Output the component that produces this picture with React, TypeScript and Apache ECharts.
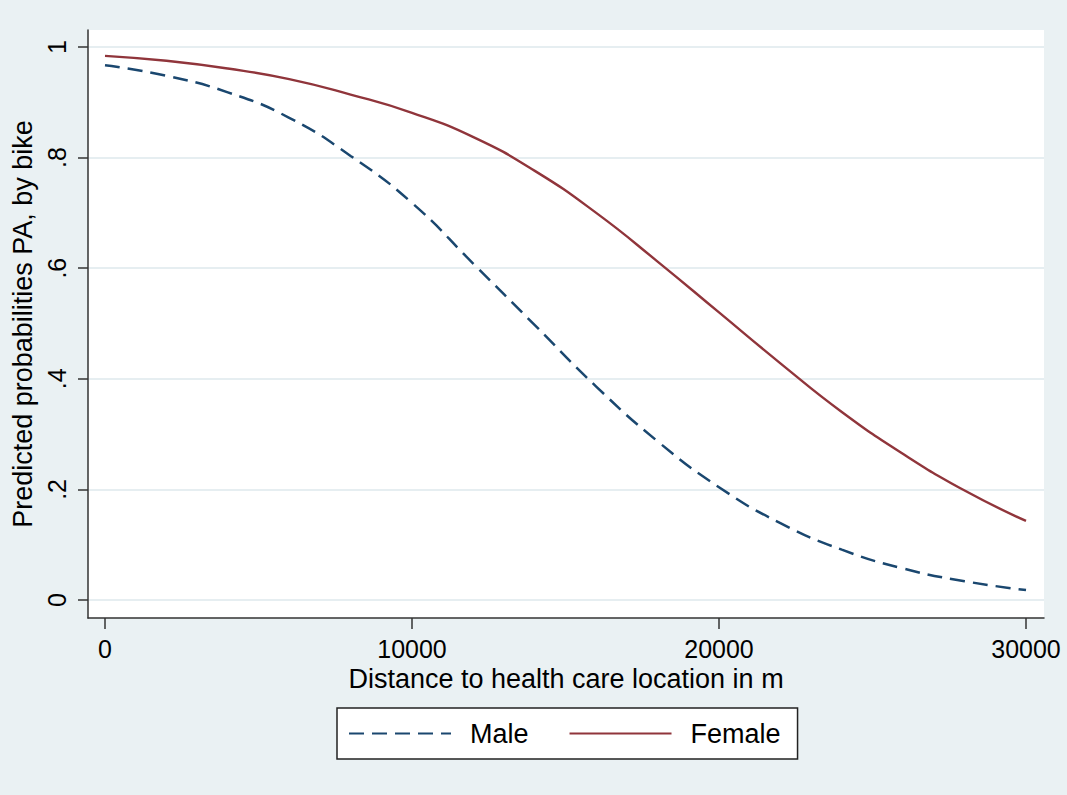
import React, { useEffect, useRef } from "react";
import * as echarts from "echarts";

// Distance to health care location (m)
const distance = [0, 2000, 4000, 6000, 8000, 10000, 12000, 14000, 16000, 18000, 20000, 22000, 24000, 26000, 28000, 30000];
// Predicted probability of physical activity by bike
const male = [0.967, 0.948, 0.918, 0.872, 0.803, 0.718, 0.608, 0.497, 0.386, 0.287, 0.204, 0.139, 0.091, 0.057, 0.034, 0.018];
const female = [0.984, 0.975, 0.961, 0.942, 0.914, 0.881, 0.837, 0.776, 0.7, 0.612, 0.52, 0.428, 0.34, 0.264, 0.198, 0.143];

const xTicks = [0, 10000, 20000, 30000];
const yTicks = [0, 0.2, 0.4, 0.6, 0.8, 1];
const yTickLabels = ["0", ".2", ".4", ".6", ".8", "1"];

const FONT = "'Liberation Sans', Arial, sans-serif";
const BG = "#EAF1F3";
const AXIS = "#333333";

export default function App() {
  const ref = useRef<HTMLDivElement>(null);

  useEffect(() => {
    if (!ref.current) return;
    const chart = echarts.init(ref.current, null, { renderer: "svg" });
    const pairs = (ys: number[]) => distance.map((d, i) => [d, ys[i]]);

    chart.setOption({
      animation: false,
      backgroundColor: BG,
      textStyle: { fontFamily: FONT, color: "#000" },
      grid: {
        left: 88,
        top: 30,
        right: 23,
        bottom: 177,
        show: true,
        backgroundColor: "#ffffff",
        borderWidth: 0,
      },
      xAxis: {
        type: "value",
        min: -554,
        max: 30586,
        name: "Distance to health care location in m",
        nameLocation: "middle",
        nameGap: 45,
        nameTextStyle: { fontSize: 27, color: "#000", fontFamily: FONT },
        axisLine: { show: true, onZero: false, lineStyle: { color: AXIS, width: 1.5 } },
        axisTick: { show: true, length: 11, customValues: xTicks, lineStyle: { color: AXIS, width: 1.5 } },
        axisLabel: {
          customValues: xTicks,
          fontSize: 25,
          margin: 18,
          color: "#000",
          fontFamily: FONT,
          formatter: (v: number) => String(v),
        },
        splitLine: { show: false },
      },
      yAxis: {
        type: "value",
        min: -0.0325,
        max: 1.0307,
        name: "Predicted probabilities PA, by bike",
        nameLocation: "middle",
        nameGap: 46,
        nameTextStyle: { fontSize: 27, color: "#000", fontFamily: FONT },
        axisLine: { show: true, onZero: false, lineStyle: { color: AXIS, width: 1.5 } },
        axisTick: { show: true, length: 10, customValues: yTicks, lineStyle: { color: AXIS, width: 1.5 } },
        axisLabel: {
          customValues: yTicks,
          rotate: 90,
          fontSize: 25,
          margin: 19,
          color: "#000",
          fontFamily: FONT,
          formatter: (v: number) => {
            const i = yTicks.findIndex((t) => Math.abs(t - v) < 1e-6);
            return i >= 0 ? yTickLabels[i] : "";
          },
        },
        splitLine: { show: true, lineStyle: { color: "#E6EEF1", width: 2 } },
      },
      legend: {
        left: 337,
        top: 708,
        orient: "horizontal",
        backgroundColor: "#ffffff",
        borderColor: "#222222",
        borderWidth: 1.5,
        borderRadius: 0,
        padding: [12, 17, 12, 11],
        itemWidth: 102,
        itemHeight: 26,
        itemGap: 40,
        itemStyle: { color: "transparent", borderWidth: 0, opacity: 0 },
        textStyle: { fontSize: 27, color: "#000", fontFamily: FONT, padding: [0, 0, 0, 14] },
        data: ["Male", "Female"],
      },
      series: [
        {
          name: "Male",
          type: "line",
          data: pairs(male),
          smooth: true,
          symbol: "none",
          lineStyle: { color: "#1a476f", width: 2.5, type: [15, 8] },
          itemStyle: { color: "#1a476f" },
        },
        {
          name: "Female",
          type: "line",
          data: pairs(female),
          smooth: true,
          symbol: "none",
          lineStyle: { color: "#90353b", width: 2.4 },
          itemStyle: { color: "#90353b" },
        },
      ],
    });

    return () => chart.dispose();
  }, []);

  return (
    <div
      ref={ref}
      style={{ position: "absolute", left: 0, top: 0, width: 1067, height: 795 }}
    />
  );
}
